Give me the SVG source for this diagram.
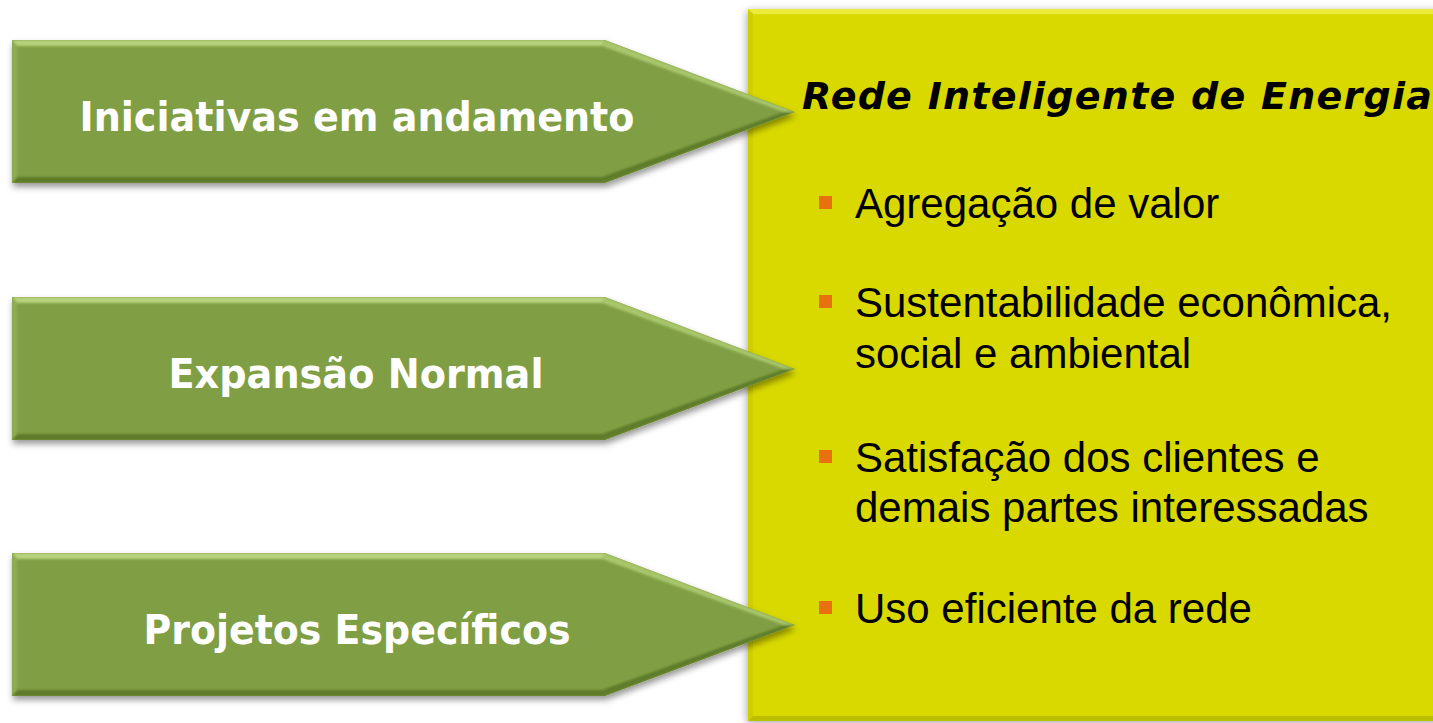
<svg xmlns="http://www.w3.org/2000/svg" width="1433" height="723" viewBox="0 0 1433 723">
  <style>
    .lbl { font-family: "DejaVu Sans", Verdana, sans-serif; font-weight: bold; font-size: 40px; fill: #ffffff; text-anchor: middle; }
    .title { font-family: "DejaVu Sans", Verdana, sans-serif; font-weight: bold; font-style: italic; font-size: 38px; fill: #000000; }
    .item { font-family: "Liberation Sans", Arial, sans-serif; font-size: 42px; fill: #000000; }
    .bul { fill: #E8700E; }
  </style>
  <defs>
    <filter id="shadow" x="-5%" y="-10%" width="112%" height="130%">
      <feDropShadow dx="1" dy="4" stdDeviation="3" flood-color="#000000" flood-opacity="0.4"/>
    </filter>
    <filter id="boxshadow" x="-5%" y="-5%" width="110%" height="110%">
      <feDropShadow dx="-1" dy="2" stdDeviation="4" flood-color="#000000" flood-opacity="0.35"/>
    </filter>
    <filter id="soft">
      <feGaussianBlur stdDeviation="1.2"/>
    </filter>
    <clipPath id="arrowclip">
      <polygon points="0,0 593,0 783,72 593,143 0,143"/>
    </clipPath>
    <g id="arrowshape">
      <polygon points="0,0 593,0 783,72 593,143 0,143" fill="#809F45"/>
      <g clip-path="url(#arrowclip)">
        <g filter="url(#soft)">
          <polygon points="0,0 593,0 590,6 5,6" fill="#B6D27B"/>
          <polygon points="593,0 783,72 772,72 590,6" fill="#A9C66C"/>
          <polygon points="783,72 593,143 590,137 772,72" fill="#5F7C2A"/>
          <polygon points="593,143 0,143 5,137 590,137" fill="#5E7A29"/>
          <polygon points="0,143 0,0 5,6 5,137" fill="#8EAD55"/>
        </g>
      </g>
    </g>
  </defs>

  <g id="target-box" filter="url(#boxshadow)">
    <rect x="748" y="9" width="700" height="712" fill="#D9D905"/>
    <polygon points="748,9 1448,9 1448,14 753,14" fill="#ECEC3C"/>
    <polygon points="748,9 753,14 753,716 748,721" fill="#CFCF04"/>
    <polygon points="748,721 753,716 1448,716 1448,721" fill="#BDBD02"/>
  </g>

  <g id="box-content">
    <text class="title" x="802" y="109" textLength="630" lengthAdjust="spacing">Rede Inteligente de Energia</text>
    <rect class="bul" x="819" y="196" width="13" height="13"/>
    <text class="item" x="855" y="218">Agregação de valor</text>
    <rect class="bul" x="819" y="295" width="13" height="13"/>
    <text class="item" x="855" y="317">Sustentabilidade econômica,</text>
    <text class="item" x="855" y="368">social e ambiental</text>
    <rect class="bul" x="819" y="450" width="13" height="13"/>
    <text class="item" x="855" y="472">Satisfação dos clientes e</text>
    <text class="item" x="855" y="522">demais partes interessadas</text>
    <rect class="bul" x="819" y="601" width="13" height="13"/>
    <text class="item" x="855" y="623">Uso eficiente da rede</text>
  </g>

  <g id="arrow-iniciativas">
    <use href="#arrowshape" transform="translate(12,40)" filter="url(#shadow)"/>
    <text class="lbl" x="357" y="131" textLength="555" lengthAdjust="spacingAndGlyphs">Iniciativas em andamento</text>
  </g>
  <g id="arrow-expansao">
    <use href="#arrowshape" transform="translate(12,297)" filter="url(#shadow)"/>
    <text class="lbl" x="356" y="388" textLength="375" lengthAdjust="spacingAndGlyphs">Expansão Normal</text>
  </g>
  <g id="arrow-projetos">
    <use href="#arrowshape" transform="translate(12,553)" filter="url(#shadow)"/>
    <text class="lbl" x="357" y="644" textLength="427" lengthAdjust="spacingAndGlyphs">Projetos Específicos</text>
  </g>
</svg>
